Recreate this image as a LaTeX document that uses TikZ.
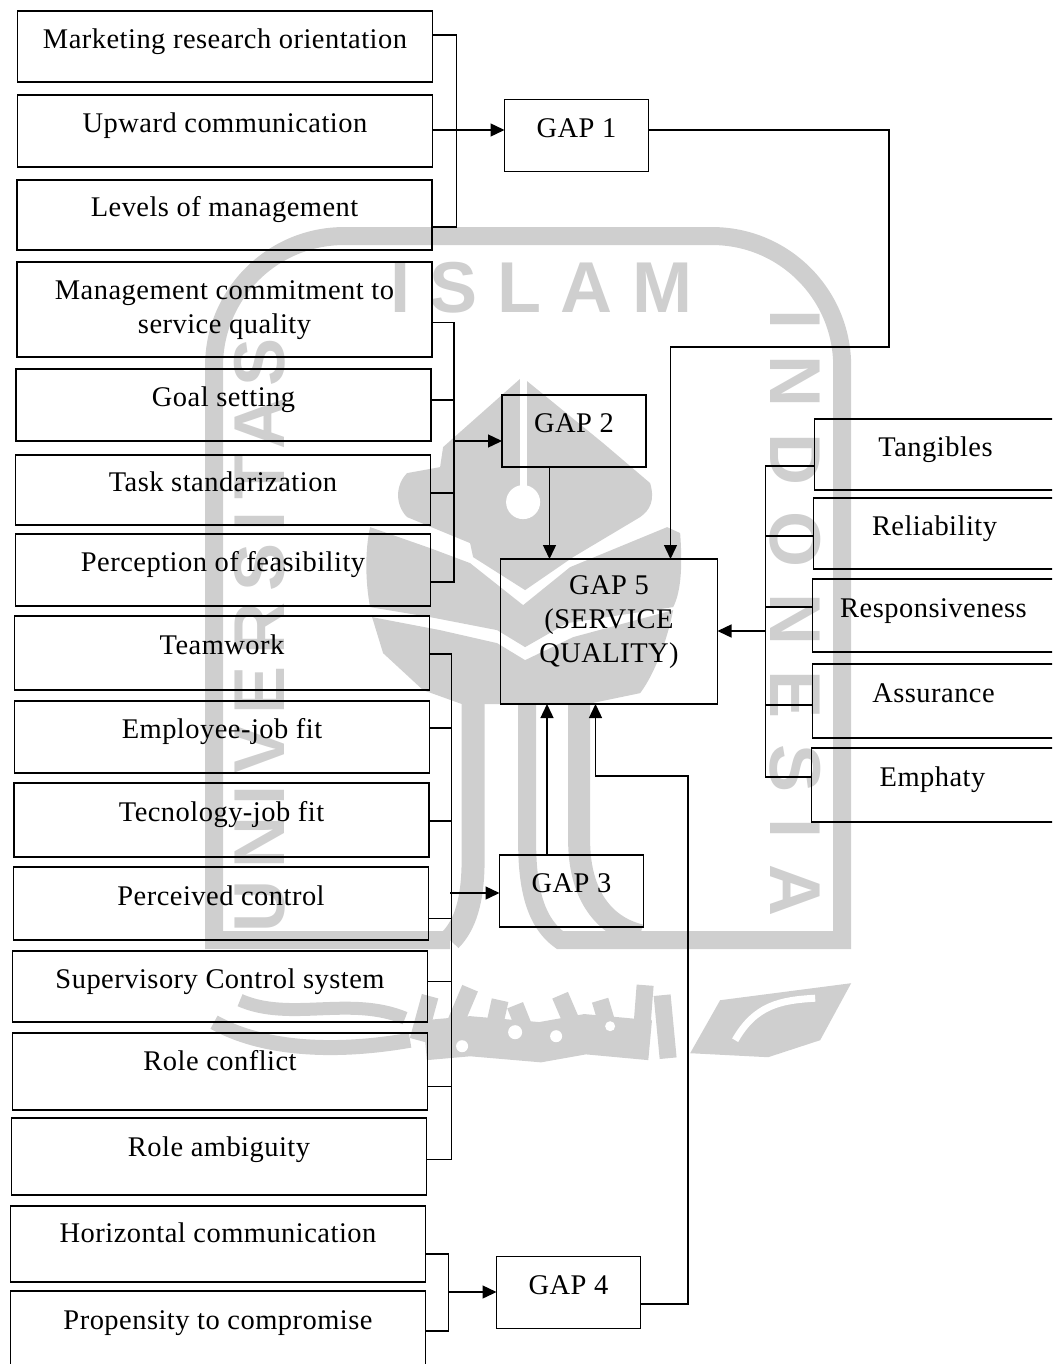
\documentclass[tikz,border=0pt]{standalone}
\usepackage{fontspec}
\setmainfont[LetterSpace=1.7]{Liberation Serif}
\newfontfamily\wmfont[LetterSpace=16]{Liberation Sans}
\newfontfamily\wmwide[LetterSpace=36]{Liberation Sans}
\newfontfamily\wmtop[LetterSpace=27]{Liberation Sans}
\usepackage{tikz}
\usetikzlibrary{arrows.meta,positioning,calc}
\definecolor{wmgray}{HTML}{CFCFCF}
\tikzset{
  rec/.style={draw, rectangle, align=center, outer sep=0pt, inner sep=0pt, font=\fontsize{16.2}{19.3}\selectfont},
  lft/.style={rec, minimum width=8.3cm, text height=12pt, text depth=10pt},
  rgt/.style={rec, minimum width=4.84cm, text height=12pt, text depth=10pt},
  gapb/.style={rec, minimum width=2.88cm, minimum height=1.44cm, text height=12pt, text depth=10pt},
  arr/.style={-{Triangle[length=2.8mm,width=2.6mm]}},
  wmtxt/.style={text=wmgray, font=\fontsize{41}{41}\wmfont\bfseries},
  wmwd/.style={text=wmgray, font=\fontsize{41}{41}\wmwide\bfseries},
  wmline/.style={draw=wmgray}
}
\begin{document}
\begin{tikzpicture}[line width=0.8pt]
  \useasboundingbox (0,0) rectangle (21.04,-27.28);
  \clip (0,0) rectangle (21.04,-27.28);
  % watermark
  \begin{scope}[x=0.02cm, y=-0.02cm]
    \draw[wmline, line width=0.36cm] (450,940) -- (214,940) [rounded corners=2.6cm] -- (214,236) -- (842,236) -- (842,700) [sharp corners] -- (842,940) -- (560,940) .. controls (532,920) and (527,880) .. (527,840) -- (527,704);
    \node[text=wmgray, font=\fontsize{41}{41}\wmtop\bfseries] (wmisl) at (541,288) {ISLAM};
    \node[wmtxt, rotate=90] (wmuni) at (260,635) {UNIVERSITAS};
    \node[wmwd, rotate=-90] (wmind) at (795,613) {INDONESIA};
    \fill[wmgray] (522,377) -- (603,443) -- (650,483) .. controls (655,500) and (650,510) .. (640,517) -- (573,557) -- (525,590) -- (473,557) -- (470,543) -- (407,517) .. controls (395,505) and (395,485) .. (407,473) -- (440,467) -- (443,447) -- cycle;
    \fill[white] (523,502) circle (17);
    \fill[white] (520,377) rectangle (527,490);
    \fill[wmgray] (370,527) -- (430,548) -- (470,563) -- (523,605) -- (570,567) -- (667,527) -- (680,533) .. controls (682,560) and (682,590) .. (673,607) -- (567,623) -- (525,647) -- (497,630) -- (430,617) -- (370,607) .. controls (365,580) and (365,550) .. (370,527) -- cycle;
    \fill[wmgray] (372,617) -- (440,630) -- (497,643) -- (525,660) -- (573,637) -- (673,610) .. controls (665,650) and (650,680) .. (640,693) -- (587,704) -- (462,704) -- (423,690) -- (383,653) -- cycle;
    \draw[wmline, line width=0.46cm] (473,704) -- (473,860) .. controls (473,900) and (465,925) .. (450,940);
    \draw[wmline, line width=0.44cm] (579,704) -- (579,840) .. controls (579,890) and (600,925) .. (640,935);
    % calligraphy under the seal
    \draw[wmline, line width=0.3cm] (214,1022) .. controls (260,1048) and (330,1054) .. (410,1040);
    \draw[wmline, line width=0.26cm] (240,1000) .. controls (290,1022) and (350,995) .. (405,1018);
    \draw[wmline, line width=0.8cm] (425,1040) -- (470,1036) -- (540,1042) -- (585,1034) -- (650,1040);
    \foreach \xa/\ya/\xb/\yb in {418/996/430/1040, 448/988/470/1040, 490/1000/500/1045, 525/1005/515/1030, 575/995/560/1030, 612/1000/600/1040, 640/985/645/1050, 668/995/662/1058}{
      \draw[wmline, line width=0.34cm] (\xa,\yb) -- (\xb,\ya);
    }
    \fill[white] (515,1032) circle (7);
    \fill[white] (556,1036) circle (6);
    \fill[white] (462,1046) circle (6);
    \fill[white] (610,1026) circle (5);
    \fill[wmgray] (690,1053) -- (720,1000) -- (851,983) -- (820,1040) -- (768,1057) -- cycle;
    \draw[white, line width=0.14cm] (735,1040) .. controls (755,1005) and (780,1000) .. (815,998);
  \end{scope}
  % left column
  \node[lft, minimum height=1.42cm] (mkt) at (4.5,-0.93) {Marketing research orientation};
  \node[lft, minimum height=1.44cm, below=0.26cm of mkt] (upw) {Upward communication};
  \node[lft, minimum height=1.40cm, below=0.26cm of upw, xshift=-0.01cm] (lev) {Levels of management};
  \node[rec, minimum width=8.3cm, minimum height=1.90cm, text depth=3pt, below=0.24cm of lev] (mgt) {Management commitment to\\service quality};
  \node[lft, minimum height=1.44cm, below=0.24cm of mgt, xshift=-0.02cm] (goa) {Goal setting};
  \node[lft, minimum height=1.40cm, below=0.28cm of goa, xshift=-0.01cm] (tsk) {Task standarization};
  \node[lft, minimum height=1.44cm, below=0.18cm of tsk] (prc) {Perception of feasibility};
  \node[lft, minimum height=1.48cm, below=0.20cm of prc, xshift=-0.02cm] (tmw) {Teamwork};
  \node[lft, minimum height=1.44cm, below=0.22cm of tmw] (emp) {Employee-job fit};
  \node[lft, minimum height=1.48cm, below=0.20cm of emp, xshift=-0.01cm] (tec) {Tecnology-job fit};
  \node[lft, minimum height=1.46cm, below=0.20cm of tec, xshift=-0.01cm] (pcv) {Perceived control};
  \node[lft, minimum height=1.42cm, below=0.22cm of pcv, xshift=-0.02cm] (sup) {Supervisory Control system};
  \node[lft, minimum height=1.54cm, text depth=13.5pt, below=0.22cm of sup] (rlc) {Role conflict};
  \node[lft, minimum height=1.54cm, text depth=12.5pt, below=0.16cm of rlc, xshift=-0.02cm] (rla) {Role ambiguity};
  \node[lft, minimum height=1.52cm, text depth=13.5pt, below=0.22cm of rla, xshift=-0.02cm] (hor) {Horizontal communication};
  \node[lft, minimum height=1.60cm, text depth=13.5pt, below=0.18cm of hor] (prp) {Propensity to compromise};
  % gaps
  \node[gapb, right=1.44cm of upw, yshift=-0.09cm] (gapa) {GAP 1};
  \node[gapb, right=1.42cm of goa, yshift=-0.52cm] (gapc) {GAP 2};
  \node[rec, minimum width=4.34cm, minimum height=2.90cm, text depth=14pt, below=1.84cm of gapc, xshift=0.70cm] (gape) {GAP 5\\(SERVICE\\QUALITY)};
  \node[gapb, right=1.42cm of pcv, yshift=0.25cm] (gapd) {GAP 3};
  \node[gapb, right=1.42cm of hor, yshift=-0.97cm] (gapf) {GAP 4};
  % right column
  \node[rgt, minimum height=1.42cm, right=1.94cm of gape, yshift=3.54cm] (tan) {Tangibles};
  \node[rgt, minimum height=1.42cm, below=0.16cm of tan, xshift=-0.02cm] (rel) {Reliability};
  \node[rgt, minimum height=1.46cm, below=0.20cm of rel, xshift=-0.02cm] (res) {Responsiveness};
  \node[rgt, minimum height=1.48cm, below=0.24cm of res] (asr) {Assurance};
  \node[rgt, minimum height=1.48cm, below=0.20cm of asr, xshift=-0.02cm] (emh) {Emphaty};
  % first group
  \draw ([yshift=0.23cm]mkt.east) -- ++(0.48,0) |- ([yshift=-0.24cm]lev.east);
  \draw[arr] ([yshift=0.02cm]upw.east) -- ([yshift=0.02cm]upw.east -| gapa.west);
  \coordinate (cra) at (17.78,-6.94);
  \draw[arr] ([yshift=0.11cm]gapa.east) -| (cra) -| ([xshift=1.23cm]gape.north);
  % second group
  \draw ([yshift=-0.26cm]mgt.east) -- ++(0.44,0) |- ([yshift=-0.24cm]prc.east);
  \draw ([yshift=0.10cm]goa.east) -- ++(0.46,0);
  \draw ([yshift=-0.06cm]tsk.east) -- ++(0.48,0);
  \coordinate (tbb) at (9.08,-8.82);
  \draw[arr] (tbb) -- (tbb -| gapc.west);
  \draw[arr] ([xshift=-0.49cm]gapc.south) -- ([xshift=-0.49cm]gapc.south |- gape.north);
  % third group
  \draw ([yshift=-0.02cm]tmw.east) -- ++(0.44,0) |- ([yshift=-0.06cm]rla.east);
  \draw ([yshift=0.18cm]emp.east) -- ++(0.42,0);
  \draw ([yshift=-0.02cm]tec.east) -- ++(0.44,0);
  \draw ([yshift=-0.30cm]pcv.east) -- ++(0.44,0);
  \draw ([yshift=0.10cm]sup.east) -- ++(0.46,0);
  \draw ([yshift=-0.30cm]rlc.east) -- ++(0.46,0);
  \coordinate (tbc) at (9.00,-17.86);
  \draw[arr] (tbc) -- (tbc -| gapd.west);
  \draw[arr] ([xshift=-0.49cm]gapd.north) -- ([xshift=-0.49cm]gapd.north |- gape.south);
  % fourth group
  \draw ([yshift=-0.20cm]hor.east) -- ++(0.46,0) |- ([yshift=0.0cm]prp.east);
  \coordinate (tbd) at (8.96,-25.84);
  \draw[arr] (tbd) -- (tbd -| gapf.west);
  \coordinate (crb) at (13.76,-15.52);
  \draw[arr] ([yshift=-0.23cm]gapf.east) -| (crb) -| ([xshift=-0.27cm]gape.south);
  % dimensions
  \draw ([yshift=-0.23cm]tan.west) -- ++(-0.98,0) |- ([yshift=0.16cm]emh.west);
  \draw ([yshift=-0.05cm]rel.west) -- ++(-0.96,0);
  \draw ([yshift=0.17cm]res.west) -- ++(-0.94,0);
  \draw ([yshift=-0.08cm]asr.west) -- ++(-0.94,0);
  \coordinate (tbe) at (15.32,-12.62);
  \draw[arr] (tbe) -- (tbe -| gape.east);
\end{tikzpicture}
\end{document}
